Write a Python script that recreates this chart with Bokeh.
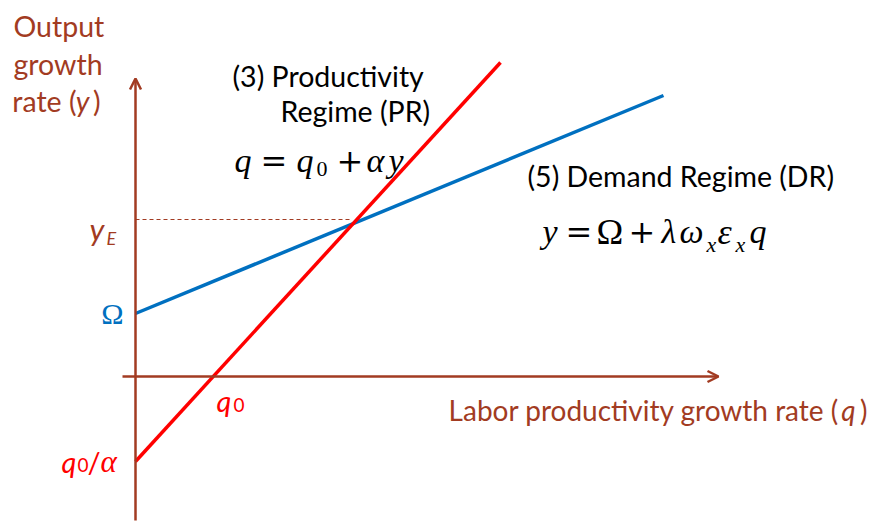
from bokeh.plotting import figure
from bokeh.models import Range1d, Arrow, OpenHead, Label
from bokeh.embed import file_html
from bokeh.resources import INLINE

# ---- data (conceptual units: origin = axis intersection) ----
q_axis = [-0.13, 5.83]          # extent of horizontal (q) axis
y_axis = [-1.44, 2.98]          # extent of vertical (y) axis
dr_q = [0.0, 5.28]              # Demand Regime line
dr_y = [0.63, 2.81]
pr_q = [0.0, 3.65]              # Productivity Regime line
pr_y = [-0.85, 3.14]
q_E = 2.17                      # equilibrium
y_E = 1.57
q0 = 0.78                       # PR intercept on the q axis
omega = dr_y[0]
q0_alpha = pr_y[0]

BROWN = "#A23B22"
BLUE = "#0070C0"
RED = "#FF0000"
SANS = "Lato"
SERIF = "Liberation Serif"
OPS = "DejaVu Serif"
FS = 28.5


def X(px):
    return (px - 135) / 100


def Y(py):
    return (376 - py) / 100


p = figure(width=877, height=524, x_range=Range1d(X(0), X(877)), y_range=Range1d(Y(524), Y(0)),
           x_axis_type=None, y_axis_type=None, toolbar_location=None, output_backend="svg",
           min_border=0, outline_line_color=None)
p.grid.visible = False

# axes with arrows
p.add_layout(Arrow(end=OpenHead(size=11, line_color=BROWN, line_width=2.5),
                   x_start=0, y_start=y_axis[0], x_end=0, y_end=y_axis[1],
                   line_color=BROWN, line_width=2.5))
p.add_layout(Arrow(end=OpenHead(size=11, line_color=BROWN, line_width=2.5),
                   x_start=q_axis[0], y_start=0, x_end=q_axis[1], y_end=0,
                   line_color=BROWN, line_width=2.5))

# dashed guide to y_E
p.line([0, q_E], [y_E, y_E], line_color=BROWN, line_width=1, line_dash="4 3")

# regime lines
p.line(dr_q, dr_y, line_color=BLUE, line_width=3.5)
p.line(pr_q, pr_y, line_color=RED, line_width=3.5)


def lab(x, y, text, size=FS, color="black", font=SANS, style="normal",
        align="left", baseline="middle", dx=0):
    p.add_layout(Label(x=x, y=y, x_offset=dx, text=text, text_font=font,
                       text_font_size=f"{size}px", text_color=color,
                       text_font_style=style, text_align=align,
                       text_baseline=baseline))


# y-axis title
lab(X(13), Y(25), "Output", color=BROWN)
lab(X(13), Y(63), "growth", color=BROWN)
lab(X(76), Y(100), "rate (", color=BROWN, align="right")
lab(X(89), Y(100), "y", color=BROWN, style="italic", align="right")
lab(X(100), Y(100), ")", color=BROWN, align="right")

# x-axis title
lab(X(839), Y(409), "Labor productivity growth rate (", size=28, color=BROWN, align="right")
lab(X(855), Y(409), "q", size=28, color=BROWN, style="italic", align="right")
lab(X(867), Y(409), ")", size=28, color=BROWN, align="right")

# PR titles
lab(X(232), Y(75), "(3) Productivity")
lab(X(280), Y(110), "Regime (PR)")
# q = q0 + αy
bl = Y(160)
lab(X(234), bl, "q", size=34, font=SERIF, style="italic", baseline="alphabetic")
lab(X(260), bl, "=", size=32, font=OPS, baseline="alphabetic")
lab(X(296), bl, "q", size=34, font=SERIF, style="italic", baseline="alphabetic")
lab(X(316), Y(168), "0", size=22, font=SERIF, baseline="alphabetic")
lab(X(336), bl, "+", size=32, font=OPS, baseline="alphabetic")
lab(X(366), bl, "α", size=34, font=SERIF, style="italic", baseline="alphabetic")
lab(X(388), bl, "y", size=34, font=SERIF, style="italic", baseline="alphabetic")

# DR titles
lab(X(527), Y(175), "(5) Demand Regime (DR)")
bl = Y(231)
lab(X(542), bl, "y", size=34, font=SERIF, style="italic", baseline="alphabetic")
lab(X(565), bl, "=", size=32, font=OPS, baseline="alphabetic")
lab(X(596), bl, "Ω", size=36, font=SERIF, baseline="alphabetic")
lab(X(628), bl, "+", size=32, font=OPS, baseline="alphabetic")
lab(X(661), bl, "λ", size=34, font=SERIF, style="italic", baseline="alphabetic")
lab(X(679), bl, "ω", size=34, font=SERIF, style="italic", baseline="alphabetic")
lab(X(706), Y(244), "x", size=22, font=SERIF, style="italic", baseline="alphabetic")
lab(X(717), bl, "ε", size=36, font=SERIF, style="italic", baseline="alphabetic")
lab(X(735), Y(244), "x", size=22, font=SERIF, style="italic", baseline="alphabetic")
lab(X(749), bl, "q", size=34, font=SERIF, style="italic", baseline="alphabetic")

# axis markers
lab(X(89), Y(228), "y", size=31, color=BROWN, style="italic", baseline="alphabetic")
lab(X(106), Y(237), "E", size=18, color=BROWN, style="italic", baseline="alphabetic")

lab(X(123), omega, "Ω", size=30, color=BLUE, font=SERIF, align="right")

lab(X(216), Y(400), "q", size=29, color=RED, style="italic")
lab(X(233), Y(404), "0", size=19, color=RED)

lab(X(61), q0_alpha, "q", size=29, color=RED, style="italic")
lab(X(77), Y(464), "0", size=19, color=RED)
lab(X(87), q0_alpha, "/", size=29, color=RED)
lab(X(100), q0_alpha, "α", size=31, color=RED, font=SERIF, style="italic")

open("out.html", "w").write(file_html(p, INLINE))
